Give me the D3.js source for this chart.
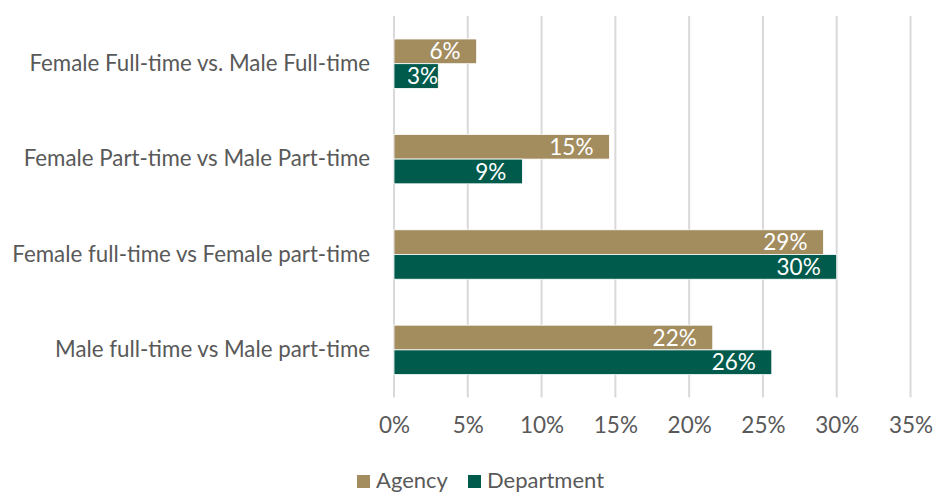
<!DOCTYPE html>
<html lang='en'>
<head>
<meta charset='utf-8'>
<title>Pay gap comparison</title>
<script src="https://d3js.org/d3.v7.min.js"></script>
<style>
  body { margin: 0; background: #fff; }
  svg text { font-family: 'Lato', 'Open Sans', sans-serif; }
</style>
</head>
<body>
<div id="chart"></div>
<script>
// chart data
var categories = [
  'Female Full-time vs. Male Full-time',
  'Female Part-time vs Male Part-time',
  'Female full-time vs Female part-time',
  'Male full-time vs Male part-time'
];
var seriesNames = ['Agency', 'Department'];
var agencyValues = [0.056, 0.146, 0.291, 0.216];
var departmentValues = [0.030, 0.087, 0.300, 0.256];
var xTicks = [0, 0.05, 0.10, 0.15, 0.20, 0.25, 0.30, 0.35];
var colors = ['#A38D5F', '#005B4C'];

var width = 933, height = 493;

var svg = d3.select('#chart').append('svg')
  .attr('width', width)
  .attr('height', height);

var x = d3.scaleLinear().domain([0, 0.35]).range([394, 910.5]);
var y0 = d3.scaleBand().domain(categories).range([16, 397.6])
  .paddingInner(0.482).paddingOuter(0.241);
var y1 = d3.scaleBand().domain(seriesNames).range([0, y0.bandwidth()]);

// gridlines
svg.append('g').selectAll('line')
  .data(xTicks)
  .enter().append('line')
  .attr('x1', function(d) { return x(d); })
  .attr('x2', function(d) { return x(d); })
  .attr('y1', 16)
  .attr('y2', 397.6)
  .attr('stroke', '#d9d9d9')
  .attr('stroke-width', 2);

// x axis labels
var xAxis = d3.axisBottom(x)
  .tickValues(xTicks)
  .tickFormat(d3.format('.0%'))
  .tickSize(0)
  .tickPadding(0);

var xAxisGroup = svg.append('g')
  .attr('transform', 'translate(0, 417)')
  .call(xAxis);
xAxisGroup.select('.domain').remove();
xAxisGroup.selectAll('text')
  .attr('fill', '#595959')
  .attr('dy', '0.71em')
  .style('font-size', '22.5px');

// y axis labels
var yAxis = d3.axisLeft(y0).tickSize(0).tickPadding(24);
var yAxisGroup = svg.append('g')
  .attr('transform', 'translate(394, 0)')
  .call(yAxis);
yAxisGroup.select('.domain').remove();
yAxisGroup.selectAll('text')
  .attr('fill', '#595959')
  .style('font-size', '22.3px');

var rows = categories.map(function(c, i) {
  return { category: c, values: [
    { name: 'Agency', value: agencyValues[i] },
    { name: 'Department', value: departmentValues[i] }
  ] };
});

var groups = svg.append('g').selectAll('g')
  .data(rows)
  .enter().append('g')
  .attr('transform', function(d) { return 'translate(0,' + y0(d.category) + ')'; });

groups.selectAll('rect')
  .data(function(d) { return d.values; })
  .enter().append('rect')
  .attr('x', x(0))
  .attr('y', function(d) { return y1(d.name); })
  .attr('width', function(d) { return x(d.value) - x(0); })
  .attr('height', y1.bandwidth())
  .attr('fill', function(d, i) { return colors[i]; })
  .attr('stroke', '#fff')
  .attr('stroke-width', 0.8);

// labels inside the bar end (short bars push the label right)
groups.selectAll('text.val')
  .data(function(d) { return d.values; })
  .enter().append('text')
  .attr('class', 'val')
  .attr('y', function(d) { return y1(d.name) + y1.bandwidth() / 2; })
  .attr('dy', '0.36em')
  .attr('text-anchor', 'end')
  .attr('fill', '#fff')
  .style('font-size', '22.5px')
  .text(function(d) { return Math.round(d.value * 100) + '%'; })
  .attr('x', function(d) {
    var w = this.getComputedTextLength();
    return Math.max(x(d.value) - 16, x(0) + 13 + w);
  });

// legend
var legend = svg.append('g');
var legendX = [357, 468];
seriesNames.forEach(function(name, i) {
  var item = legend.append('g').attr('transform', 'translate(' + legendX[i] + ',475)');
  item.append('rect')
    .attr('width', 13)
    .attr('height', 13)
    .attr('fill', colors[i]);
  item.append('text')
    .attr('x', 19)
    .attr('y', 13)
    .attr('fill', '#595959')
    .style('font-size', '22px')
    .text(name);
});
</script>
</body>
</html>
